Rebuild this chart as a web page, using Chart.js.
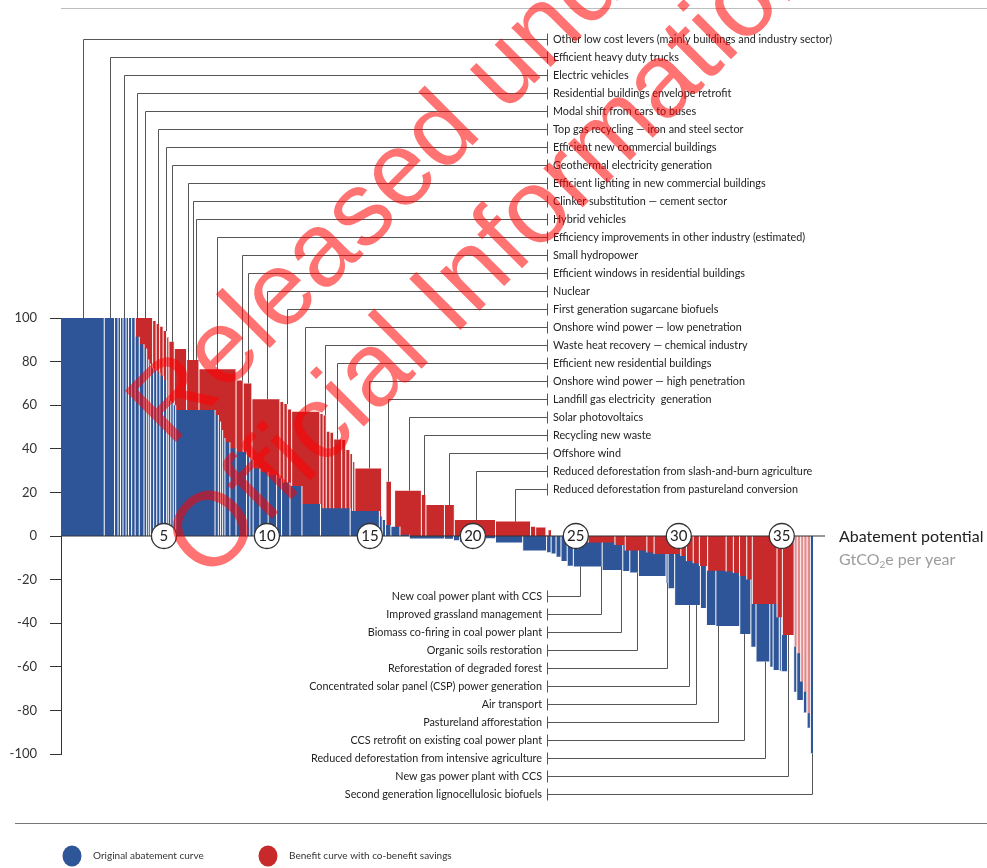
<!DOCTYPE html>
<html>
<head>
<meta charset="utf-8">
<title>Abatement cost curve</title>
<script src="https://cdn.jsdelivr.net/npm/chart.js@4.4.0/dist/chart.umd.min.js"></script>
<style>
  html, body { margin: 0; padding: 0; background: #fff; }
  #wrap { width: 987px; height: 868px; position: relative; }
</style>
</head>
<body>
<div id="wrap"><canvas id="mac"></canvas></div>
<script>
'use strict';

/* ── Data ─────────────────────────────────────────────────── */
// Original abatement curve: bar widths (GtCO2e per year) and costs
const blueWidth = [2.1, 0.5, 0.17, 0.12, 0.12, 0.15, 0.12, 0.15, 0.17,
  0.2, 0.23, 0.13, 0.1, 0.09, 0.15, 0.15, 0.15, 0.18, 0.15, 0.08, 0.12, 0.12, 0.12,
  1.91, 0.16, 0.11, 0.1, 0.11, 0.24, 0.3, 0.51, 0.16, 0.16, 0.33, 0.4, 0.41, 0.24, 0.41, 0.58,
  0.9, 1.44, 1.42, 0.14, 0.16, 0.26, 0.44, 0.46, 1.7, 0.44, 0.3, 1.22, 0.52, 1.32, 1.16,
  0.22, 0.24, 0.24, 0.3, 0.3, 1.4, 1.0, 0.34, 0.42, 1.34, 0.1, 0.32, 1.25, 0.29, 0.46, 1.16,
  0.54, 0.25, 0.67, 0.16, 0.3, 0.1, 0.3, 0.3, 0.15, 0.32, 0.18, 0.16, 0.13];
const blueCost = [100, 100, 100, 100, 100, 100, 100, 100, 100,
  91.4, 88, 86, 81, 79, 77, 76, 75, 73.5, 71.6, 64, 62, 61, 60,
  57.8, 55.5, 52.5, 48.6, 45, 43, 40.2, 38.7, 36.3, 34.9, 31, 29.5, 28, 26.5, 24.5, 22.9,
  14.7, 12.7, 11.5, 8.9, 7.3, 5, 4.3, 0.6, -1.2, -1.3, -2, -2.6, -1, -3, -6.7,
  -7.5, -8, -9.5, -11.5, -13.6, -14, -15.6, -16, -16.8, -18.3, -21.4, -24, -31.7, -33, -40.8, -41.3,
  -45, -50.8, -57.6, -60, -61.5, -61.8, -62, -40, -71.4, -75.2, -81, -88, -99.7];

// Benefit curve with co-benefit savings
const redWidth = [3.6, 0.85, 0.17, 0.17, 0.17, 0.17, 0.11, 0.26, 0.6, 0.6, 1.8, 0.35, 0.42,
  1.36, 0.19, 0.17, 0.21, 1.37, 0.16, 0.15, 0.18, 0.18, 0.39, 0.2, 0.2, 0.13, 0.11, 1.3,
  0.21, 0.27, 0.15, 1.3, 0.22, 0.9, 0.48, 2.0, 1.7, 0.25, 0.5, 0.1, 0.17, 1.78,
  1.3, 0.5, 1.05, 0.35, 1.3, 0.27, 0.33, 0.3, 0.4, 0.9, 0.35, 0.3, 0.35, 0.27,
  1.2, 0.26, 0.57, 0.15, 0.17, 0.15, 0.16, 0.16];
const redCost = [100, 100, 98.6, 97.2, 96, 94, 91, 89.1, 85.8, 80.7, 76.5, 71.3, 70,
  62.7, 61.5, 60.5, 58, 57, 56, 55.3, 47.8, 47.4, 44.3, 44, 39.4, 37.6, 34, 31,
  7, 24.9, 4, 20.8, 18.8, 14.2, 14.2, 7.3, 6.6, 4.3, 3.9, 0.5, 2.6, 0,
  -3, -4.1, -6.7, -7.6, -8.3, -9.2, -11.5, -12.5, -13.8, -15.9, -16.3, -17, -18.3, -20,
  -31.2, -37.3, -45.4, -50.8, -53.8, -66.8, -71.4, -81.3];

const xMax = 37.1;
const xTicks = [5, 10, 15, 20, 25, 30, 35];
const yTicks = [-100, -80, -60, -40, -20, 0, 20, 40, 60, 80, 100];

const topLevers = [
  'Other low cost levers (mainly buildings and industry sector)',
  'Efficient heavy duty trucks',
  'Electric vehicles',
  'Residential buildings envelope retrofit',
  'Modal shift from cars to buses',
  'Top gas recycling \u2014 iron and steel sector',
  'Efficient new commercial buildings',
  'Geothermal electricity generation',
  'Efficient lighting in new commercial buildings',
  'Clinker substitution \u2014 cement sector',
  'Hybrid vehicles',
  'Efficiency improvements in other industry (estimated)',
  'Small hydropower',
  'Efficient windows in residential buildings',
  'Nuclear',
  'First generation sugarcane biofuels',
  'Onshore wind power \u2014 low penetration',
  'Waste heat recovery \u2014 chemical industry',
  'Efficient new residential buildings',
  'Onshore wind power \u2014 high penetration',
  'Landfill gas electricity  generation',
  'Solar photovoltaics',
  'Recycling new waste',
  'Offshore wind',
  'Reduced deforestation from slash-and-burn agriculture',
  'Reduced deforestation from pastureland conversion'
];
const topAnchor = [1.05, 2.39, 3.04, 3.67, 4.08, 4.72, 5.08, 5.37, 6.15, 6.41, 6.55, 7.59, 8.77,
  9.09, 9.99, 10.96, 11.84, 12.82, 13.41, 14.95, 15.89, 16.89, 17.62, 18.85, 20.13, 22.04];

const bottomLevers = [
  'New coal power plant with CCS',
  'Improved grassland management',
  'Biomass co-firing in coal power plant',
  'Organic soils restoration',
  'Reforestation of degraded forest',
  'Concentrated solar panel (CSP) power generation',
  'Air transport',
  'Pastureland afforestation',
  'CCS retrofit on existing coal power plant',
  'Reduced deforestation from intensive agriculture',
  'New gas power plant with CCS',
  'Second generation lignocellulosic biofuels'
];
const bottomAnchor = [25.19, 26.22, 27.17, 27.98, 29.43, 30.49, 30.83, 31.91, 33.16, 34.21, 35.31, 36.45];

/* ── Helpers ──────────────────────────────────────────────── */
const BLUE = '#2e5597';
const RED = '#c8292b';
const RED_PALE = '#e58a8b';
const paleFrom = 35.6;   // the thin bars at the tail are drawn lighter

function cumulativeStarts(widths) {
  let s = 0;
  return widths.map(w => { const v = s; s += w; return v; });
}
const blueStart = cumulativeStarts(blueWidth);
const redStart = cumulativeStarts(redWidth);

// stepped outline: one point at the start of each bar, plus the end of the last bar
function stepPoints(st, w, c) {
  const pts = st.map((x, i) => ({ x, y: c[i] }));
  const n = st.length - 1;
  pts.push({ x: st[n] + w[n], y: c[n] });
  return pts;
}

// white gaps between neighbouring bars
function gapPoints(st, c, keep) {
  const pts = [];
  for (let i = 1; i < st.length; i++) {
    let lo = Math.min(0, c[i - 1], c[i]);
    let hi = Math.max(0, c[i - 1], c[i]);
    if (keep === 'pos') lo = 0;
    if (keep === 'neg') hi = 0;
    if (hi - lo <= 0) continue;
    pts.push({ x: st[i], y: lo }, { x: st[i], y: hi }, { x: st[i], y: null });
  }
  return pts;
}

function costAt(st, w, c, xv) {
  for (let i = 0; i < st.length; i++) if (xv >= st[i] && xv < st[i] + w[i]) return c[i];
  return 0;
}

const lineBase = { pointRadius: 0, pointHitRadius: 0, borderWidth: 0, tension: 0 };
const gapBase = { pointRadius: 0, pointHitRadius: 0, borderWidth: 1, borderColor: '#fff',
  fill: false, spanGaps: false, borderCapStyle: 'butt' };

/* ── Annotations: leader lines, titles, legend, watermark ─── */
const decor = {
  id: 'decor',
  afterDatasetsDraw(chart) {
    const { ctx, scales: { x, y } } = chart;
    ctx.save();
    ctx.lineWidth = 1;
    ctx.strokeStyle = '#555';
    ctx.fillStyle = '#222';
    ctx.font = '10.8px Lato';
    ctx.textBaseline = 'middle';

    topLevers.forEach((name, i) => {
      const a = topAnchor[i];
      const v = Math.max(costAt(redStart, redWidth, redCost, a), costAt(blueStart, blueWidth, blueCost, a));
      const px = Math.round(x.getPixelForValue(a)) + 0.5;
      const ly = 39 + i * 18 + 0.5;
      ctx.beginPath();
      ctx.moveTo(px, y.getPixelForValue(v));
      ctx.lineTo(px, ly);
      ctx.lineTo(547.5, ly);
      ctx.moveTo(547.5, ly - 6);
      ctx.lineTo(547.5, ly + 6);
      ctx.stroke();
      ctx.textAlign = 'left';
      ctx.fillText(name, 553, ly);
    });

    bottomLevers.forEach((name, i) => {
      const a = bottomAnchor[i];
      const v = Math.min(costAt(redStart, redWidth, redCost, a), costAt(blueStart, blueWidth, blueCost, a));
      const px = Math.round(x.getPixelForValue(a)) + 0.5;
      const ly = 596 + i * 18 + 0.5;
      ctx.beginPath();
      ctx.moveTo(px, y.getPixelForValue(v));
      ctx.lineTo(px, ly);
      ctx.lineTo(547.5, ly);
      ctx.moveTo(547.5, ly - 6);
      ctx.lineTo(547.5, ly + 6);
      ctx.stroke();
      ctx.textAlign = 'right';
      ctx.fillText(name, 542, ly);
    });
    ctx.restore();
  },
  afterDraw(chart) {
    const { ctx } = chart;
    ctx.save();
    // rules
    ctx.lineWidth = 1;
    ctx.strokeStyle = '#bdbdbd';
    ctx.beginPath(); ctx.moveTo(61, 8.5); ctx.lineTo(987, 8.5); ctx.stroke();
    ctx.strokeStyle = '#777';
    ctx.beginPath(); ctx.moveTo(15, 823.5); ctx.lineTo(987, 823.5); ctx.stroke();

    // axis title
    ctx.textAlign = 'left';
    ctx.textBaseline = 'middle';
    ctx.font = '16px Lato';
    ctx.fillStyle = '#222';
    ctx.fillText('Abatement potential', 839, 537);
    ctx.fillStyle = '#9c9c9c';
    ctx.fillText('GtCO', 839, 560);
    let tx = 839 + ctx.measureText('GtCO').width;
    ctx.font = '10px Lato';
    ctx.fillText('2', tx, 565);
    tx += ctx.measureText('2').width;
    ctx.font = '16px Lato';
    ctx.fillText('e per year', tx, 560);

    // legend
    [[72, BLUE, 'Original abatement curve'], [268, RED, 'Benefit curve with co-benefit savings']]
      .forEach(([cx, col, txt]) => {
        ctx.fillStyle = col;
        ctx.beginPath(); ctx.ellipse(cx, 856, 9.5, 10.5, 0, 0, Math.PI * 2); ctx.fill();
        ctx.fillStyle = '#333';
        ctx.font = '10px Lato';
        ctx.fillText(txt, cx + 21, 856);
      });

    // watermark
    ctx.translate(537, 167);
    ctx.rotate(-Math.PI / 4);
    ctx.font = '105px "Liberation Sans"';
    ctx.fillStyle = 'rgba(255,0,0,0.55)';
    ctx.textAlign = 'center';
    ctx.textBaseline = 'alphabetic';
    ctx.fillText('Released under the', 0, -61);
    ctx.fillText('Official Information Act', 0, 61);
    ctx.restore();
  }
};

/* ── Chart ────────────────────────────────────────────────── */
new Chart(document.getElementById('mac'), {
  type: 'line',
  data: {
    datasets: [
      { ...lineBase, label: 'Benefit (above zero)', order: 7, stepped: true,
        data: stepPoints(redStart, redWidth, redCost),
        fill: { target: 'origin', above: RED, below: 'rgba(0,0,0,0)' } },
      { ...gapBase, label: 'gaps red +', order: 6, data: gapPoints(redStart, redCost, 'pos') },
      { ...lineBase, label: 'Original abatement curve', order: 5, stepped: true,
        data: stepPoints(blueStart, blueWidth, blueCost),
        fill: { target: 'origin', above: BLUE, below: BLUE } },
      { ...gapBase, label: 'gaps blue', order: 4, data: gapPoints(blueStart, blueCost, 'all') },
      { ...lineBase, label: 'Benefit (below zero)', order: 3, stepped: true,
        data: stepPoints(redStart, redWidth, redCost),
        fill: { target: 'origin', above: 'rgba(0,0,0,0)', below: RED },
        segment: { backgroundColor: c => (c.p0.parsed.x >= paleFrom ? RED_PALE : undefined) } },
      { ...gapBase, label: 'gaps red -', order: 2, data: gapPoints(redStart, redCost, 'neg') },
      { ...lineBase, label: 'zero', order: 1, borderWidth: 1.2, borderColor: '#333', fill: false,
        data: [{ x: 0, y: 0 }, { x: xMax, y: 0 }] },
      { label: 'markers', order: 0, showLine: false, fill: false,
        data: xTicks.map(t => ({ x: t, y: 0 })),
        pointRadius: 12.5, pointBackgroundColor: '#fff', pointBorderColor: '#333', pointBorderWidth: 1.3 }
    ]
  },
  options: {
    responsive: true, maintainAspectRatio: false,
    animation: false,
    events: [],
    layout: { padding: { left: 0, right: 162, top: 318, bottom: 114 } },
    plugins: { legend: { display: false }, tooltip: { enabled: false } },
    scales: {
      x: {
        type: 'linear', min: 0, max: xMax, position: { y: 0 },
        grid: { display: false, drawTicks: false },
        border: { display: false },
        afterBuildTicks: s => { s.ticks = xTicks.map(v => ({ value: v })); },
        ticks: { z: 1, autoSkip: false, maxRotation: 0, padding: -9, color: '#222',
          font: { family: 'Lato', size: 15 } }
      },
      y: {
        min: -100, max: 100, position: 'left',
        afterFit: s => { s.width = 61; },
        afterBuildTicks: s => { s.ticks = yTicks.map(v => ({ value: v })); },
        grid: { drawOnChartArea: false, drawTicks: true, tickLength: 11, color: '#333' },
        border: { color: '#333' },
        ticks: { padding: 13, color: '#333', font: { family: 'Lato', size: 13 } }
      }
    }
  },
  plugins: [decor]
});
</script>
</body>
</html>
